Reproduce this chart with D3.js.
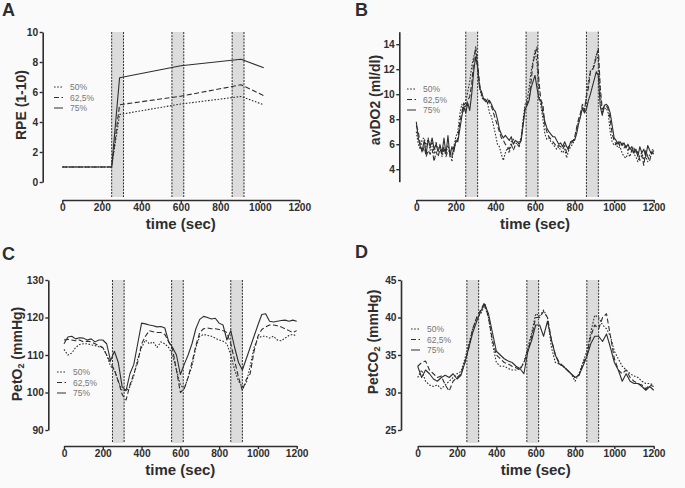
<!DOCTYPE html>
<html><head><meta charset="utf-8">
<script src="https://cdn.jsdelivr.net/npm/d3@7"></script>
<style>
html,body{margin:0;padding:0;background:#fafafa;}
svg{display:block;font-family:"Liberation Sans",Arial,sans-serif;}
</style></head>
<body>
<svg id="chart" width="685" height="488"></svg>
<script>
// ---------- DATA ----------
const seriesNames = ["50%", "62,5%", "75%"];
const xTicks = [0, 200, 400, 600, 800, 1000, 1200];
const bands = [[250, 310], [555, 615], [860, 920]];

// Panel A: RPE
const rpeTime = [0, 250, 290, 600, 905, 1020];
const rpe50  = [1, 1, 4.5, 5.2, 5.7, 5.15];
const rpe625 = [1, 1, 5.15, 5.72, 6.48, 5.76];
const rpe75  = [1, 1, 6.95, 7.75, 8.18, 7.62];
const rpeTicks = [0, 2, 4, 6, 8, 10];

// Panel B: avDO2 (10 s samples)
const avdoStep = 10;
const avdo50 = [7.0,6.0,5.6,6.4,6.5,5.8,6.5,5.5,6.3,5.2,6.2,5.5,6.0,5.0,5.6,5.3,5.9,5.5,4.6,5.8,
 6.6,7.0,8.4,9.2,8.6,9.4,10.2,11.0,12.2,13.0,13.5,12.0,10.5,9.8,9.5,9.6,9.3,8.5,8.2,7.5,
 6.8,6.0,5.8,5.2,4.7,5.3,5.7,5.3,6.2,6.4,6.0,6.1,6.2,6.5,8.0,9.2,9.5,10.5,11.8,12.6,
 13.5,12.5,10.0,9.0,8.0,6.8,6.4,6.5,6.2,6.0,5.8,5.6,5.8,5.5,5.3,5.6,4.9,5.5,5.8,6.0,
 6.4,7.2,7.8,8.3,9.0,8.6,10.0,11.0,11.9,12.0,12.5,13.2,12.8,10.0,8.5,8.8,8.9,8.5,7.0,6.2,
 5.9,6.0,5.7,5.8,5.3,5.0,4.9,5.3,5.0,5.6,5.2,5.0,4.6,5.1,5.3,4.8,5.0,4.6,5.2,5.5,5.6];
const avdo625 = [7.5,7.0,6.0,5.3,5.8,5.0,5.5,5.2,5.6,4.6,5.4,5.0,5.6,5.2,5.8,5.0,5.5,5.4,5.0,5.8,
 6.0,6.5,7.8,8.5,9.3,9.0,9.5,9.8,10.8,12.6,13.8,12.5,10.8,10.0,9.7,9.4,9.6,9.3,9.0,8.5,
 8.0,7.5,7.0,6.5,6.3,6.0,5.8,5.6,6.0,5.5,5.9,6.0,5.8,6.4,7.8,8.9,9.3,9.6,11.0,12.5,
 13.2,13.8,11.0,9.5,9.2,7.5,7.0,6.6,6.4,6.2,6.0,5.8,5.9,5.8,5.6,5.9,5.3,5.8,6.0,6.2,
 6.5,7.3,8.0,8.5,9.2,8.7,9.8,10.5,11.8,11.9,12.3,13.0,13.7,10.5,8.8,9.0,9.1,8.8,8.0,6.8,
 6.3,6.0,6.3,5.8,6.1,5.7,5.9,5.5,5.8,5.4,5.7,5.2,5.4,4.7,5.1,4.3,5.5,5.0,4.7,5.4,5.2];
const avdo75 = [7.8,6.5,5.8,5.5,6.3,5.2,6.4,5.8,6.5,5.6,6.0,5.4,5.9,5.3,6.5,5.2,6.7,5.0,5.8,5.4,
 6.3,6.2,7.2,8.2,9.0,8.5,9.3,8.7,10.0,11.8,13.0,12.2,10.5,10.2,9.6,9.6,9.3,9.5,9.2,8.8,
 8.6,8.0,7.2,6.8,6.5,6.7,6.5,6.3,6.6,6.0,6.3,6.2,6.0,6.3,7.5,8.8,9.1,9.5,10.5,11.0,
 11.5,10.5,9.6,9.5,8.5,7.8,7.3,7.0,6.8,6.6,6.6,6.3,6.0,6.1,5.8,6.2,5.8,5.6,6.2,6.3,
 6.3,6.8,7.6,8.2,8.9,8.5,8.8,9.5,10.0,10.6,11.2,11.8,11.5,9.0,8.3,9.1,9.2,9.0,8.5,7.5,
 6.5,6.3,6.0,6.2,5.9,6.1,5.7,6.0,5.6,5.8,5.3,5.6,5.0,5.8,5.3,5.6,5.0,5.9,5.5,5.2,5.5];
const avdoTicks = [4, 6, 8, 10, 12, 14];

// Panel C: PetO2 (20 s samples)
const petStep = 20;
const peto50 = [111.5,110,110.5,112,112.8,113,113,112.7,112.5,112.2,112,110,107,106,103,100.5,100.5,101.5,104.5,109,
 112,114,113,113.5,112,113.5,113,112,110,106,102,101,104,107,112,115,115.5,115.2,115,114.5,
 114,113.7,113,110,106,103,101.5,102.5,107,112,114.5,115,115,114.5,115,114,113.8,114.5,115.2,115.5,115];
const peto625 = [114,114.2,114,113.8,114,113.5,113.7,113.5,113,112.5,112,110,108,106,103,99.5,98,102,105,108,
 113,115,116.5,116.2,116,116,115.5,113.5,111.5,106,100,101,104,108,112.5,116,117,117.2,117,117,
 116.8,116.5,116,113,108.5,104,100.5,103.5,105,111,115,116.8,117.5,118,118,117.8,117.5,117,116.5,116,116.5];
const peto75 = [113,114.8,115,114.3,114.6,114.5,114,114.3,113.5,114,114,113,108.5,111,108,101.5,100.5,105,107.5,113,
 118.5,118.3,118,117.8,117.5,117.6,117.2,113.5,112,110,104.8,107.5,110,113,117,119.5,120.3,120,119.6,119.8,
 118.5,118,114,116.5,112,108,106,109,112,115,118,120.8,121,119,118.8,119,119.2,119.3,119,119.3,119];
const petoTicks = [90, 100, 110, 120, 130];

// Panel D: PetCO2 (20 s samples)
const petco50 = [32,33,31.5,31,30.8,31,30.5,31,31.5,32,32.5,32.8,34.5,36.5,38.5,40,40.5,41.5,40,36.5,
 34,33.5,33.5,33.2,33,33,33.2,34,36,38,40.5,40.2,41,40,36,34,33.8,33.5,33,32.5,
 31.5,32.5,34,35.5,38,40.3,40,39,38.5,37.5,35.5,34.5,33.5,33,32.5,32.2,32,31.5,31.2,31.2,31];
const petco625 = [33.5,34,34.2,33,32.5,32,32.2,31,30.2,31.5,32,32.5,34,36,38.5,40,41,42,40,37,
 35,34.5,34,33.8,33.5,33.3,33,34,35.5,37.5,40,40,40.8,40,37,35,34,33.5,33,32.5,
 32,32.3,33.8,35,37.5,39,38.5,40,40.5,37.5,34.5,33,32.5,33,32,31.5,31.2,31,30.5,31,30.8];
const petco75 = [33.5,32,33,32.5,31.8,31.5,32,32.3,32,32.5,31.8,32.3,34,36,38,39.5,40.8,41.8,40.5,38,
 35.5,35,34.5,34.2,34,33.5,33.2,32.5,35.5,37,39,39,37.5,39.5,37,35,33.8,33.5,33,32.5,
 32,32.3,33.5,34.8,36.5,37.5,37.5,36.8,37.8,36,34,33,31.5,32.5,31.5,31.2,31.2,30.8,30.3,30.8,30.3];
const petcoTicks = [25, 30, 35, 40, 45];

// ---------- RENDER ----------
const svg = d3.select("#chart");
const INK = "#2e2e2e";
const dashes = ["1.6,1.6", "5,2.5", null];
const fmt = d3.format("d");

function toPts(times, vals) { return vals.map((v, i) => [times[i], v]); }
function sampled(step, vals) { return vals.map((v, i) => [i * step, v]); }

function panel(cfg) {
  const g = svg.append("g");
  const x = d3.scaleLinear().domain([0, 1200]).range([cfg.x0, cfg.x1]);
  const y = d3.scaleLinear().domain(cfg.yDomain).range([cfg.yBottom, cfg.yTop]);
  const bandBottom = cfg.xAxisY - 3;

  // bands
  bands.forEach(b => {
    g.append("rect").attr("x", x(b[0])).attr("y", cfg.yTop)
      .attr("width", x(b[1]) - x(b[0])).attr("height", bandBottom - cfg.yTop)
      .attr("fill", "#dcdcdc");
    b.forEach(t => g.append("line").attr("x1", x(t)).attr("x2", x(t))
      .attr("y1", cfg.yTop).attr("y2", bandBottom)
      .attr("stroke", INK).attr("stroke-width", 1).attr("stroke-dasharray", "2,1.2"));
  });

  // series
  const line = d3.line().x(d => x(d[0])).y(d => y(d[1]));
  cfg.series.forEach((pts, i) => {
    g.append("path").datum(pts).attr("d", line).attr("fill", "none")
      .attr("stroke", INK).attr("stroke-width", 1.1)
      .attr("stroke-linejoin", "round")
      .attr("stroke-dasharray", dashes[i]);
  });

  // y axis
  const ya = g.append("g").attr("transform", `translate(${cfg.yAxisX},0)`)
    .call(d3.axisLeft(y).tickValues(cfg.yTicks).tickFormat(fmt).tickSize(3).tickSizeOuter(0).tickPadding(1.5));
  // x axis
  const xa = g.append("g").attr("transform", `translate(0,${cfg.xAxisY})`)
    .call(d3.axisBottom(x).tickValues(xTicks).tickFormat(fmt).tickSize(3).tickSizeOuter(0).tickPadding(1));
  [ya, xa].forEach(a => {
    a.select(".domain").attr("stroke", INK).attr("stroke-width", 1.6);
    a.selectAll(".tick line").attr("stroke", INK).attr("stroke-width", 1.4);
    a.selectAll(".tick text").attr("fill", INK).attr("font-size", 10.2)
      .attr("font-weight", "bold").attr("font-family", "Liberation Sans, Arial, sans-serif");
  });

  // x title
  g.append("text").attr("x", (cfg.x0 + cfg.x1) / 2).attr("y", cfg.xAxisY + 29)
    .attr("text-anchor", "middle").attr("font-size", 15).attr("font-weight", "bold")
    .attr("fill", INK).text("time (sec)");
  // y title
  const yt = g.append("text")
    .attr("transform", `translate(${cfg.yTitleX},${cfg.yTitleY}) rotate(-90)`)
    .attr("text-anchor", "middle").attr("font-size", 14).attr("font-weight", "bold")
    .attr("fill", INK);
  cfg.yTitle.forEach(p => {
    const ts = yt.append("tspan").text(p.t);
    if (p.sub) ts.attr("font-size", 9).attr("baseline-shift", "-25%");
  });

  // panel letter
  g.append("text").attr("x", cfg.labelX).attr("y", cfg.labelY)
    .attr("font-size", 18).attr("font-weight", "bold").attr("fill", INK).text(cfg.label);

  // legend
  seriesNames.forEach((n, i) => {
    const ly = cfg.legY + i * 10.5;
    g.append("line").attr("x1", cfg.legX).attr("x2", cfg.legX + 9)
      .attr("y1", ly).attr("y2", ly).attr("stroke", INK).attr("stroke-width", 1)
      .attr("stroke-dasharray", dashes[i]);
    g.append("text").attr("x", cfg.legX + 16).attr("y", ly + 3)
      .attr("font-size", 8.5).attr("fill", "#777").text(n);
  });
}

panel({label: "A", labelX: 2, labelY: 16,
  x0: 62.3, x1: 299.3, yAxisX: 42.7, yTop: 32, yBottom: 182, xAxisY: 200,
  yDomain: [0, 10], yTicks: rpeTicks,
  yTitle: [{t: "RPE (1-10)"}], yTitleX: 26, yTitleY: 105,
  legX: 54, legY: 87,
  series: [toPts(rpeTime, rpe50), toPts(rpeTime, rpe625), toPts(rpeTime, rpe75)]});

panel({label: "B", labelX: 355, labelY: 16,
  x0: 416.3, x1: 653.7, yAxisX: 399.3, yTop: 31.7, yBottom: 181.7, xAxisY: 200,
  yDomain: [3, 15], yTicks: avdoTicks,
  yTitle: [{t: "avDO2 (ml/dl)"}], yTitleX: 380, yTitleY: 100,
  legX: 407, legY: 89,
  series: [sampled(avdoStep, avdo50), sampled(avdoStep, avdo625), sampled(avdoStep, avdo75)]});

panel({label: "C", labelX: 2, labelY: 260,
  x0: 64, x1: 296.7, yAxisX: 48.3, yTop: 280, yBottom: 430, xAxisY: 446,
  yDomain: [90, 130], yTicks: petoTicks,
  yTitle: [{t: "PetO"}, {t: "2", sub: true}, {t: " (mmHg)"}], yTitleX: 22, yTitleY: 354,
  legX: 57, legY: 372,
  series: [sampled(petStep, peto50), sampled(petStep, peto625), sampled(petStep, peto75)]});

panel({label: "D", labelX: 355, labelY: 258,
  x0: 417.7, x1: 653.7, yAxisX: 401, yTop: 280, yBottom: 430, xAxisY: 446,
  yDomain: [25, 45], yTicks: petcoTicks,
  yTitle: [{t: "PetCO"}, {t: "2", sub: true}, {t: " (mmHg)"}], yTitleX: 378, yTitleY: 342,
  legX: 411, legY: 329,
  series: [sampled(petStep, petco50), sampled(petStep, petco625), sampled(petStep, petco75)]});
</script>
</body></html>
